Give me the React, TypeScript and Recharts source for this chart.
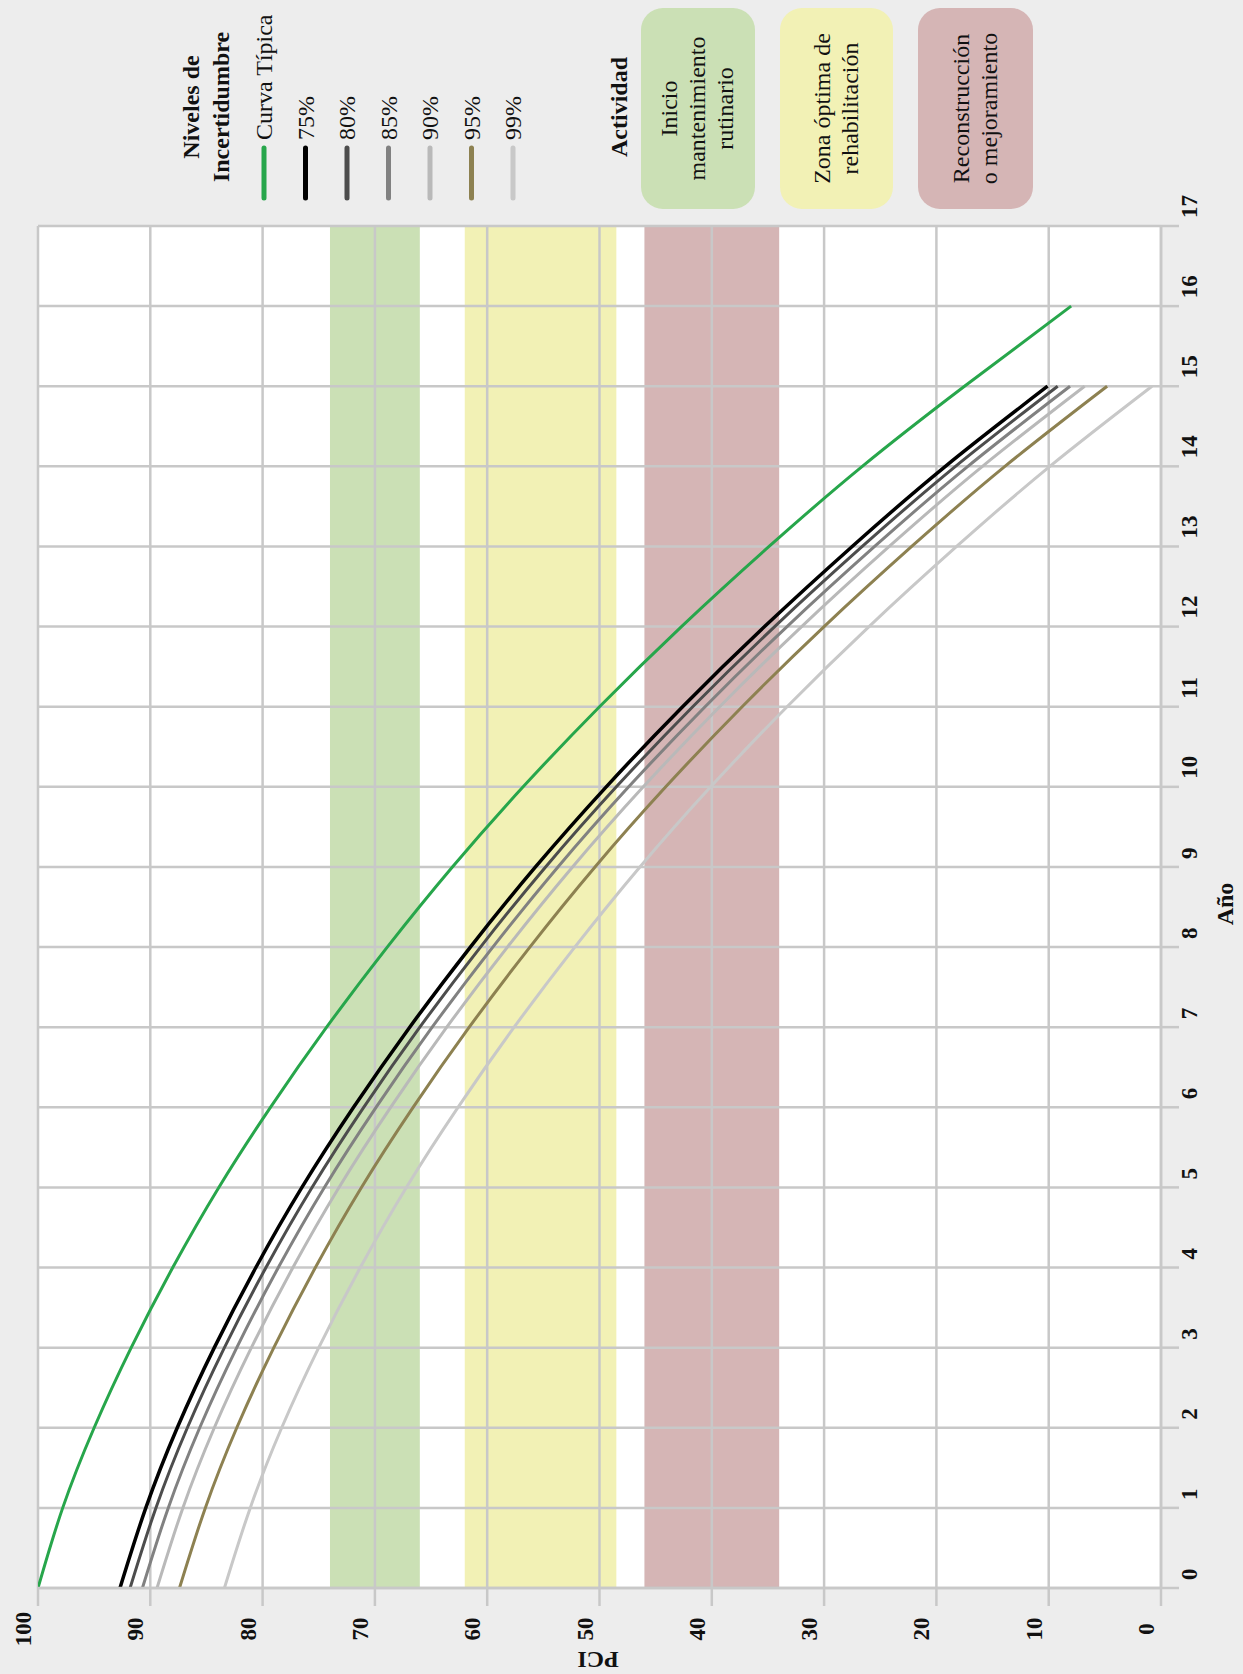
import React from 'react';
import { LineChart, Line, XAxis, YAxis, ReferenceArea, ReferenceLine } from 'recharts';

// ---- data ----
const years = [0, 1, 2, 3, 4, 5, 6, 7, 8, 9, 10, 11, 12, 13, 14, 15, 16];
const tipica = [100, 97.8, 95.0, 91.7, 88.0, 83.9, 79.3, 74.3, 68.9, 63.1, 56.8, 50.0, 42.7, 34.9, 26.6, 17.5, 8.0];
const p75 = [92.7, 90.4, 87.6, 84.3, 80.6, 76.5, 71.9, 66.9, 61.5, 55.7, 49.4, 42.6, 35.3, 27.5, 19.2, 10.1];
const p80 = [91.8, 89.5, 86.7, 83.4, 79.7, 75.6, 71.0, 66.0, 60.6, 54.8, 48.5, 41.7, 34.4, 26.6, 18.3, 9.2];
const p85 = [90.7, 88.4, 85.6, 82.3, 78.6, 74.5, 69.9, 64.9, 59.5, 53.7, 47.4, 40.6, 33.3, 25.5, 17.2, 8.1];
const p90 = [89.4, 87.1, 84.3, 81.0, 77.3, 73.2, 68.6, 63.6, 58.2, 52.4, 46.1, 39.3, 32.0, 24.2, 15.9, 6.8];
const p95 = [87.4, 85.1, 82.3, 79.0, 75.3, 71.2, 66.6, 61.6, 56.2, 50.4, 44.1, 37.3, 30.0, 22.2, 13.9, 4.8];
const p99 = [83.4, 81.1, 78.3, 75.0, 71.3, 67.2, 62.6, 57.6, 52.2, 46.4, 40.1, 33.3, 26.0, 18.2, 9.9, 0.8];

const seriesKeys = ['tipica', 'p75', 'p80', 'p85', 'p90', 'p95', 'p99'];
const seriesValues = [tipica, p75, p80, p85, p90, p95, p99];
const seriesLabels = ['Curva Típica', '75%', '80%', '85%', '90%', '95%', '99%'];
const seriesColors = ['#27a64b', '#000000', '#4d4d4d', '#818181', '#b9b9b9', '#8d8151', '#c8c8c8'];
const seriesWidths = [3, 3.5, 3, 3, 3, 3, 3];

const yearTicks = [0, 1, 2, 3, 4, 5, 6, 7, 8, 9, 10, 11, 12, 13, 14, 15, 16, 17];
const pciTicks = [0, 10, 20, 30, 40, 50, 60, 70, 80, 90, 100];

const bandLow = [66, 48.5, 34];
const bandHigh = [74, 62, 46];
const bandColors = ['#cbe0b5', '#f2f1b5', '#d5b5b5'];
const activityLines = [
  ['Inicio', 'mantenimiento', 'rutinario'],
  ['Zona óptima de', 'rehabilitación'],
  ['Reconstrucción', 'o mejoramiento'],
];

const data = years.map((y, i) => {
  const row: Record<string, number | undefined> = { year: y };
  seriesKeys.forEach((k, j) => {
    row[k] = seriesValues[j][i];
  });
  return row;
});

// ---- layout (unrotated chart; whole chart rotated -90deg) ----
const W = 1674;
const H = 1243;
const FONT = '"Liberation Serif", "Times New Roman", serif';
const GRID = '#c8c8c8';

const XTick = (props: any) => {
  const { x, payload } = props;
  return (
    <text x={x + 8} y={1197} fontSize={23} fontWeight="bold" fontFamily={FONT} fill="#111">
      {payload.value}
    </text>
  );
};

const YTick = (props: any) => {
  const { y, payload } = props;
  return (
    <text x={45} y={y - 7} textAnchor="middle" fontSize={23} fontWeight="bold" fontFamily={FONT} fill="#111">
      {payload.value}
    </text>
  );
};

const Overlay = () => {
  const itemV0 = 264;
  const itemStep = 41.5;
  const boxTop = [641, 780, 918];
  const boxH = [114, 113, 115];
  return (
    <svg
      width={W}
      height={H}
      style={{ position: 'absolute', left: 0, top: 0, pointerEvents: 'none' }}
      fontFamily={FONT}
    >
      {/* axis titles */}
      <text x={770} y={1233} textAnchor="middle" fontSize={24} fontWeight="bold" fill="#111">
        Año
      </text>
      <text
        x={22}
        y={598}
        textAnchor="middle"
        fontSize={24}
        fontWeight="bold"
        fill="#111"
        transform="rotate(-90 22 598)"
      >
        PCI
      </text>

      {/* legend: uncertainty levels */}
      <text x={1567} y={199} textAnchor="middle" fontSize={24} fontWeight="bold" fill="#111">
        Niveles de
      </text>
      <text x={1567} y={229} textAnchor="middle" fontSize={24} fontWeight="bold" fill="#111">
        Incertidumbre
      </text>
      {seriesLabels.map((lab, i) => {
        const v = itemV0 + itemStep * i;
        return (
          <g key={lab}>
            <line x1={1476} x2={1526} y1={v} y2={v} stroke={seriesColors[i]} strokeWidth={5} strokeLinecap="round" />
            <text x={1534} y={v + 8} fontSize={24} fill="#111">
              {lab}
            </text>
          </g>
        );
      })}

      {/* legend: activity */}
      <text x={1567} y={627} textAnchor="middle" fontSize={24} fontWeight="bold" fill="#111">
        Actividad
      </text>
      {activityLines.map((lines, i) => {
        const top = boxTop[i];
        const h = boxH[i];
        const c = top + h / 2;
        const lh = 28;
        return (
          <g key={i}>
            <rect x={1465} y={top} width={201} height={h} rx={22} ry={22} fill={bandColors[i]} />
            {lines.map((ln, j) => (
              <text
                key={j}
                x={1565.5}
                y={c + (j - (lines.length - 1) / 2) * lh + 7}
                textAnchor="middle"
                fontSize={24}
                fill="#111"
              >
                {ln}
              </text>
            ))}
          </g>
        );
      })}
    </svg>
  );
};

export default function App() {
  return (
    <div
      style={{
        position: 'fixed',
        left: 0,
        top: 0,
        width: 1243,
        height: 1674,
        overflow: 'hidden',
        background: '#ededed',
      }}
    >
      <div
        style={{
          position: 'absolute',
          left: 0,
          top: 0,
          width: W,
          height: H,
          background: '#ededed',
          transformOrigin: '0 0',
          transform: `translate(0px, ${W}px) rotate(-90deg)`,
        }}
      >
        <LineChart width={W} height={H} data={data} margin={{ top: 38, right: 226, left: 0, bottom: 0 }}>
          <XAxis
            dataKey="year"
            type="number"
            domain={[0, 17]}
            ticks={yearTicks}
            interval={0}
            allowDataOverflow
            height={82}
            tickSize={18}
            tickMargin={0}
            tick={<XTick />}
            axisLine={{ stroke: GRID, strokeWidth: 2.5 }}
            tickLine={{ stroke: GRID, strokeWidth: 2.5 }}
          />
          <YAxis
            type="number"
            domain={[0, 100]}
            ticks={pciTicks}
            interval={0}
            allowDataOverflow
            width={86}
            tickSize={18}
            tickMargin={0}
            tick={<YTick />}
            axisLine={{ stroke: GRID, strokeWidth: 2.5 }}
            tickLine={{ stroke: GRID, strokeWidth: 2.5 }}
          />
          <ReferenceArea x1={0} x2={17} y1={0} y2={100} fill="#ffffff" fillOpacity={1} stroke="none" />
          {bandLow.map((lo, i) => (
            <ReferenceArea
              key={'band' + i}
              x1={0}
              x2={17}
              y1={lo}
              y2={bandHigh[i]}
              fill={bandColors[i]}
              fillOpacity={1}
              stroke="none"
            />
          ))}
          {yearTicks.map((t) => (
            <ReferenceLine key={'gx' + t} x={t} stroke={GRID} strokeWidth={2.5} />
          ))}
          {pciTicks.map((t) => (
            <ReferenceLine key={'gy' + t} y={t} stroke={GRID} strokeWidth={2.5} />
          ))}
          {seriesKeys.map((k, i) => (
            <Line
              key={k}
              type="natural"
              dataKey={k}
              stroke={seriesColors[i]}
              strokeWidth={seriesWidths[i]}
              dot={false}
              activeDot={false}
              isAnimationActive={false}
            />
          ))}
        </LineChart>
        <Overlay />
      </div>
    </div>
  );
}
